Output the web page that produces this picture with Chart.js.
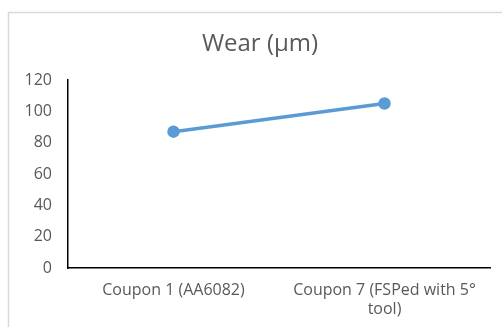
<!DOCTYPE html>
<html>
<head>
<meta charset="utf-8">
<script src="https://cdn.jsdelivr.net/npm/chart.js@4"></script>
<style>
  html, body { margin: 0; padding: 0; background: #ffffff; overflow: hidden; }
  #wrap { position: absolute; left: 0; top: 0; width: 502px; height: 327px; }
</style>
</head>
<body>
<div id="wrap"><canvas id="chart" width="502" height="327"></canvas></div>
<script>
// Wear measured on each coupon
const categories = [
  'Coupon 1 (AA6082)',
  ['Coupon 7 (FSPed with 5°', 'tool)']
];
const wearValues = [87, 105];
const yTicks = [0, 20, 40, 60, 80, 100, 120];
const chartTitle = 'Wear (µm)';

const textColor = '#595959';
const fontFamily = '"Open Sans", Lato, sans-serif';

// Thin outer frame of the chart box, plus the title centred on the whole box
const framePlugin = {
  id: 'frame',
  beforeDraw(chart) {
    const ctx = chart.ctx;
    ctx.save();
    ctx.strokeStyle = '#d9d9d9';
    ctx.lineWidth = 1.5;
    ctx.beginPath();
    ctx.moveTo(8.5, 340);
    ctx.lineTo(8.5, 12.5);
    ctx.lineTo(520, 12.5);
    ctx.stroke();

    ctx.fillStyle = textColor;
    ctx.font = '24px ' + fontFamily;
    ctx.textAlign = 'center';
    ctx.textBaseline = 'alphabetic';
    ctx.fillText(chartTitle, 260, 51);
    ctx.restore();
  }
};

new Chart(document.getElementById('chart'), {
  type: 'line',
  data: {
    labels: categories,
    datasets: [{
      data: wearValues,
      borderColor: '#5B9BD5',
      backgroundColor: '#5B9BD5',
      borderWidth: 3.5,
      pointRadius: 4.5,
      pointHoverRadius: 4.5,
      fill: false,
      tension: 0
    }]
  },
  options: {
    responsive: false,
    animation: false,
    layout: { padding: { left: 8, right: 12, top: 80, bottom: 0 } },
    plugins: {
      legend: { display: false },
      tooltip: { enabled: false },
      title: { display: false }
    },
    scales: {
      x: {
        offset: true,
        grid: { display: false, drawTicks: false },
        border: { display: true, color: '#000000', width: 1.5 },
        ticks: {
          color: textColor,
          font: { family: fontFamily, size: 16, lineHeight: 1.2 },
          padding: 13,
          maxRotation: 0,
          autoSkip: false
        },
        afterFit(scale) { scale.height = 59; }
      },
      y: {
        min: 0,
        max: 120,
        afterBuildTicks(scale) { scale.ticks = yTicks.map(v => ({ value: v })); },
        grid: { display: false, drawTicks: false },
        border: { display: true, color: '#000000', width: 1.5 },
        ticks: {
          color: textColor,
          font: { family: fontFamily, size: 16 },
          padding: 16
        },
        afterFit(scale) { scale.width = 60; }
      }
    }
  },
  plugins: [framePlugin]
});
</script>
</body>
</html>
